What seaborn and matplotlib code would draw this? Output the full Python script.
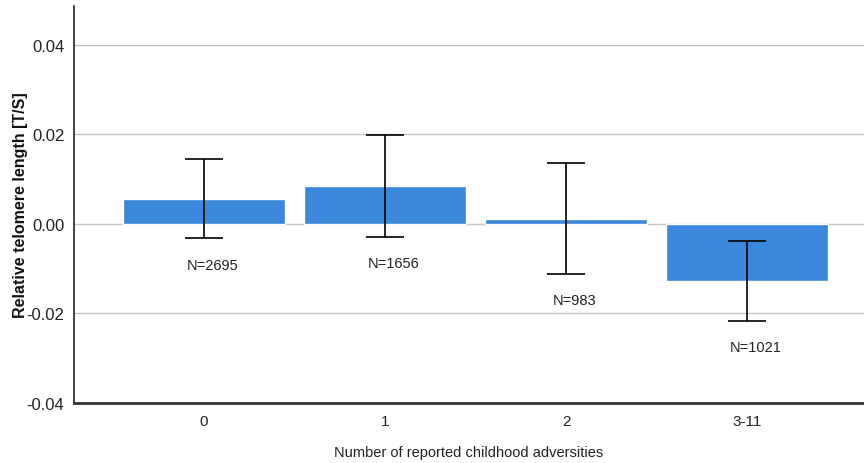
import matplotlib
matplotlib.use("Agg")
import matplotlib.pyplot as plt
import seaborn as sns
import pandas as pd
import numpy as np

categories = ["0", "1", "2", "3-11"]
means = [0.0056, 0.0085, 0.0011, -0.0127]
ci_low = [-0.0032, -0.0028, -0.0112, -0.0217]
ci_high = [0.0145, 0.0199, 0.0136, -0.0039]
n_labels = ["N=2695", "N=1656", "N=983", "N=1021"]
y_ticks = [-0.04, -0.02, 0.00, 0.02, 0.04]
y_tick_labels = ["-0.04", "-0.02", "0.00", "0.02", "0.04"]

sns.set_theme(style="white")
plt.rcParams['font.family'] = ['Liberation Sans', 'DejaVu Sans']

df = pd.DataFrame({"cat": categories, "mean": means})

fig = plt.figure(figsize=(8.64, 4.64), dpi=100)
ax = fig.add_axes([74/864, 60/464, 1 - 74/864, (404-7)/464])

sns.barplot(data=df, x="cat", y="mean", color="#3a87dc", saturation=1,
            width=0.895, errorbar=None, ax=ax, zorder=2)

x = np.arange(len(categories))
m = np.array(means)
lo = m - np.array(ci_low)
hi = np.array(ci_high) - m
ax.errorbar(x, m, yerr=[lo, hi], fmt="none", ecolor="black", elinewidth=1.2,
            capsize=14, capthick=1.2, zorder=3)

for xi, low, lab in zip(x, ci_low, n_labels):
    ax.annotate(lab, (xi, low), xytext=(6, -19), textcoords="offset points",
                ha="center", va="center", fontsize=10.5, color="#222222")

ax.set_ylim(-0.04, 0.0487)
ax.set_xlim(-0.718, 3.646)
ax.set_yticks(y_ticks)
ax.set_yticklabels(y_tick_labels, fontsize=12)
ax.set_xticks(x)
ax.set_xticklabels(categories, fontsize=11)
ax.tick_params(axis="x", length=0, pad=8, colors="#222222")
ax.tick_params(axis="y", length=0, pad=7, colors="#222222")
ax.yaxis.grid(True, color="#c4c4c4", linewidth=1)
ax.set_axisbelow(True)

for s in ["top", "right"]:
    ax.spines[s].set_visible(False)
ax.spines["left"].set_color("#222222")
ax.spines["left"].set_linewidth(1.2)
ax.spines["bottom"].set_color("#333333")
ax.spines["bottom"].set_linewidth(2)

ax.set_xlabel("Number of reported childhood adversities", fontsize=10.5,
              color="#222222", labelpad=12)
ax.set_ylabel("Relative telomere length [T/S]", fontsize=11.5, fontweight="bold",
              color="#111111")
ax.yaxis.set_label_coords(-(74 - 28) / (864 - 74), 0.5)

fig.savefig("out.png", dpi=100)
